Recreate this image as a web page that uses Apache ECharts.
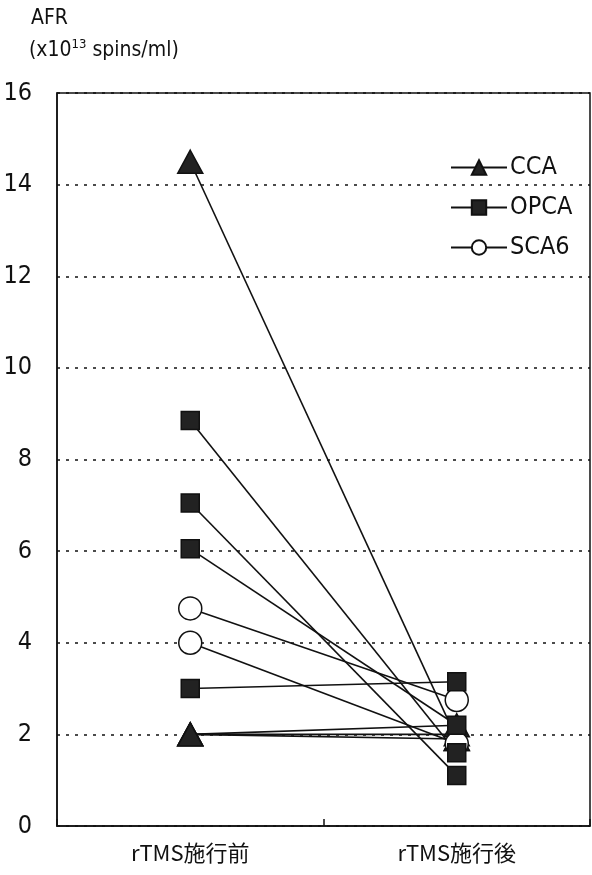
<!DOCTYPE html>
<html><head><meta charset="utf-8">
<script src="https://cdn.jsdelivr.net/npm/echarts@6/dist/echarts.min.js"></script>
<style>html,body{margin:0;padding:0;background:#fff}#c{width:592px;height:875px}</style>
</head><body><div id="c"></div>
<script>
var categories = ['rTMS施行前', 'rTMS施行後'];
var yTicks = [0, 2, 4, 6, 8, 10, 12, 14, 16];
var ccaPre  = [14.5, 2.0, 2.0, 2.0];
var ccaPost = [1.9, 2.2, 2.0, 1.9];
var opcaPre  = [8.85, 7.05, 6.05, 3.0];
var opcaPost = [1.6, 1.1, 2.2, 3.15];
var sca6Pre  = [4.75, 4.0];
var sca6Post = [2.75, 1.8];

var FONT = "'DejaVu Sans Condensed','Liberation Sans Narrow',sans-serif";
var series = [];
function addGroup(name, pre, post, symbol, size, fill) {
  for (var i = 0; i < pre.length; i++) {
    series.push({
      name: name, type: 'line', data: [pre[i], post[i]],
      symbol: symbol, symbolSize: size, showSymbol: true,
      lineStyle: {color: '#111', width: 1.6},
      itemStyle: {color: fill, borderColor: '#111', borderWidth: 1.5, opacity: 1},
      emphasis: {disabled: true}, animation: false, z: 3
    });
  }
}
addGroup('CCA', ccaPre, ccaPost, 'triangle', [25, 23], '#222');
addGroup('SCA6', sca6Pre, sca6Post, 'circle', 23, '#fff');
addGroup('OPCA', opcaPre, opcaPost, 'rect', 18, '#222');

var chart = echarts.init(document.getElementById('c'));
chart.setOption({
  animation: false,
  backgroundColor: '#fff',
  grid: {left: 57, right: 2, top: 93, bottom: 49, show: true, borderColor: '#111', borderWidth: 1.5, backgroundColor: 'transparent'},
  legend: {
    data: ['CCA', 'OPCA', 'SCA6'], orient: 'vertical', left: 445, top: 150,
    itemWidth: 56, itemHeight: 18, itemGap: 15,
    textStyle: {fontFamily: FONT, fontSize: 25, color: '#111', padding: [0, 0, 0, -2]},
    selectedMode: false
  },
  graphic: [
    {type: 'text', left: 31, top: 8, style: {text: 'AFR', fontSize: 21, fontFamily: FONT, fill: '#111'}},
    {type: 'text', left: 29, top: 38, style: {
      text: '(x10{s|13} spins/ml)', fontSize: 21, fontFamily: FONT, fill: '#111',
      rich: {s: {fontSize: 13, fontFamily: FONT, verticalAlign: 'top', padding: [0, 0, 12, 0], fill: '#111'}}
    }}
  ],
  xAxis: {
    type: 'category', data: categories, boundaryGap: true,
    axisLine: {lineStyle: {color: '#111', width: 1.5}},
    axisTick: {show: true, inside: true, length: 7, lineStyle: {color: '#111', width: 1.5}},
    axisLabel: {fontFamily: "'Noto Sans CJK JP',sans-serif", fontSize: 22, color: '#111', margin: 16}
  },
  yAxis: {
    type: 'value', min: 0, max: 16, interval: 2,
    axisLine: {show: true, lineStyle: {color: '#111', width: 1.5}},
    axisTick: {show: false},
    axisLabel: {fontFamily: FONT, fontSize: 25, color: '#111', margin: 25,
      formatter: function (v) { return yTicks.indexOf(v) >= 0 ? String(v) : ''; }},
    splitLine: {show: true, lineStyle: {color: '#111', type: [3, 6], width: 1.6}}
  },
  series: series
});
</script></body></html>
